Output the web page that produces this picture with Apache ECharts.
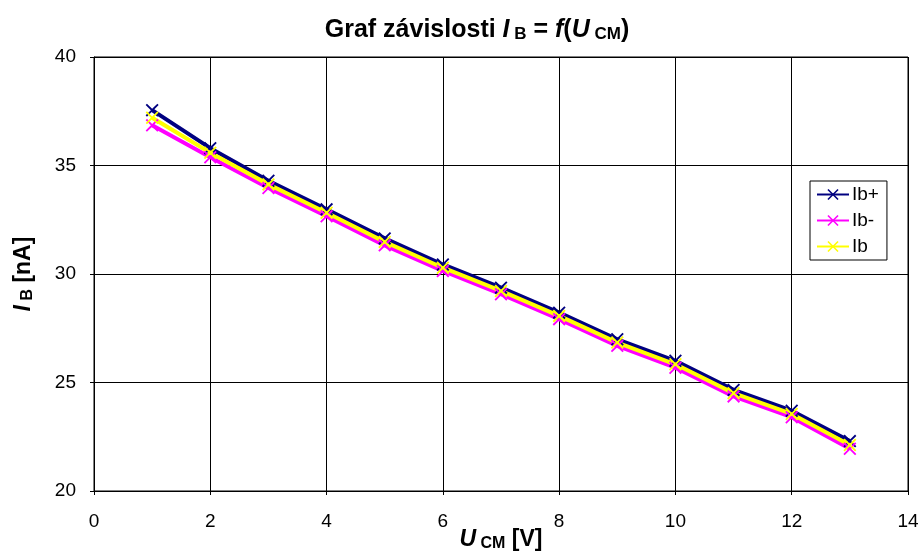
<!DOCTYPE html>
<html lang="cs" style="height: 100%">
<head>
  <meta charset="utf-8">
</head>
<body style="height: 100%; margin: 0; background: #fff">
  <div id="container" style="width: 924px; height: 557px"></div>

  <script type="text/javascript" src="https://cdn.jsdelivr.net/npm/echarts@6/dist/echarts.min.js"></script>
  <script type="text/javascript">
    // napeti U_CM [V]
    var ucm = [1, 2, 3, 4, 5, 6, 7, 8, 9, 10, 11, 12, 13];
    // proudy [nA]
    var ibPlus = [37.55, 35.80, 34.30, 32.98, 31.64, 30.44, 29.37, 28.22, 26.99, 26.00, 24.66, 23.70, 22.30];
    var ibMinus = [36.85, 35.38, 33.96, 32.66, 31.32, 30.14, 29.07, 27.92, 26.69, 25.68, 24.36, 23.40, 21.95];
    var ib = [37.20, 35.59, 34.13, 32.82, 31.48, 30.29, 29.22, 28.07, 26.84, 25.84, 24.51, 23.55, 22.12];
    var seriesNames = ['Ib+', 'Ib-', 'Ib'];
    var seriesColors = ['#000080', '#ff00ff', '#ffff00'];

    var font = 'Liberation Sans, Arial, sans-serif';
    var cross = 'path://M0,1L1,0L5,4L9,0L10,1L6,5L10,9L9,10L5,6L1,10L0,9L4,5Z';

    function pairs(ys) {
      return ucm.map(function (x, i) { return [x, ys[i]]; });
    }

    function makeSeries(name, ys, color) {
      return {
        name: name,
        type: 'line',
        data: pairs(ys),
        symbol: cross,
        symbolSize: 13,
        showSymbol: true,
        lineStyle: { color: color, width: 4 },
        itemStyle: { color: color },
        emphasis: { disabled: true },
        animation: false
      };
    }

    // styl pro popisky s indexy
    function richStyle(size, subSize, subPad) {
      return {
        a: { fontFamily: font, fontSize: size, fontWeight: 'bold', color: '#000' },
        i: { fontFamily: font, fontSize: size, fontWeight: 'bold', fontStyle: 'italic', color: '#000' },
        s: { fontFamily: font, fontSize: subSize, fontWeight: 'bold', color: '#000', padding: [subPad, 0, 0, 0] }
      };
    }

    var dom = document.getElementById('container');
    var myChart = echarts.init(dom, null, { renderer: 'canvas' });

    var option = {
      backgroundColor: '#fff',
      title: {
        text: '{a|Graf závislosti }{i|I}{s| B}{a| = }{i|f}{a|(}{i|U}{s| CM}{a|)}',
        left: 472,
        top: 13,
        textAlign: 'center',
        textStyle: { rich: richStyle(25, 17, 8) }
      },
      legend: {
        orient: 'vertical',
        left: 810,
        top: 181,
        padding: [4, 8, 4, 6],
        itemGap: 7,
        itemWidth: 32,
        itemHeight: 14,
        backgroundColor: '#fff',
        borderColor: '#000',
        borderWidth: 1,
        borderRadius: 0,
        textStyle: { fontFamily: font, fontSize: 19, color: '#000', padding: [0, 0, 0, -2] },
        data: seriesNames
      },
      grid: {
        left: 94,
        right: 16,
        top: 57,
        bottom: 66,
        containLabel: false,
        outerBoundsMode: 'none',
        show: true,
        borderColor: '#000',
        borderWidth: 1,
        backgroundColor: '#fff'
      },
      xAxis: {
        type: 'value',
        min: 0,
        max: 14,
        interval: 2,
        name: '{i|U}{s| CM}{a| [V]}',
        nameLocation: 'middle',
        nameMoveOverlap: false,
        nameGap: 37,
        nameTextStyle: { rich: richStyle(23, 16, 8) },
        axisLine: { show: true, lineStyle: { color: '#000', width: 1 } },
        axisTick: { show: true, inside: false, length: 4, lineStyle: { color: '#000' } },
        axisLabel: { fontFamily: font, fontSize: 19, color: '#000', margin: 21 },
        splitLine: { show: true, lineStyle: { color: '#000', width: 1 } }
      },
      yAxis: {
        type: 'value',
        min: 20,
        max: 40,
        interval: 5,
        name: '{i|I}{s| B}{a| [nA]}',
        nameLocation: 'middle',
        nameMoveOverlap: false,
        nameRotate: 90,
        nameGap: 58,
        nameTextStyle: { rich: richStyle(23, 16, 8) },
        axisLine: { show: true, lineStyle: { color: '#000', width: 1 } },
        axisTick: { show: true, inside: false, length: 4, lineStyle: { color: '#000' } },
        axisLabel: { fontFamily: font, fontSize: 19, color: '#000', margin: 18 },
        splitLine: { show: true, lineStyle: { color: '#000', width: 1 } }
      },
      series: [
        makeSeries(seriesNames[0], ibPlus, seriesColors[0]),
        makeSeries(seriesNames[1], ibMinus, seriesColors[1]),
        makeSeries(seriesNames[2], ib, seriesColors[2])
      ]
    };

    if (option && typeof option === 'object') {
      myChart.setOption(option);
    }

    window.addEventListener('resize', myChart.resize);
  </script>
</body>
</html>
